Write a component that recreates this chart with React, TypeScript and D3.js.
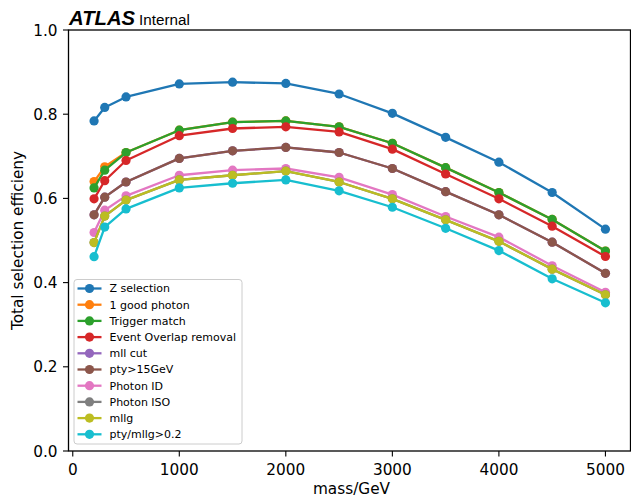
import React from 'react';
import * as d3 from 'd3';

// mass points (GeV)
const masses = [200, 300, 500, 1000, 1500, 2000, 2500, 3000, 3500, 4000, 4500, 5000];

// efficiencies per selection step
const zSelection = [0.784, 0.816, 0.841, 0.872, 0.876, 0.873, 0.848, 0.802, 0.745, 0.686, 0.614, 0.527];
const goodPhoton = [0.640, 0.675, 0.709, 0.762, 0.781, 0.784, 0.770, 0.731, 0.673, 0.614, 0.550, 0.475];
const triggerMatch = [0.625, 0.667, 0.709, 0.762, 0.781, 0.784, 0.770, 0.731, 0.673, 0.614, 0.550, 0.475];
const overlapRemoval = [0.599, 0.642, 0.690, 0.749, 0.766, 0.770, 0.758, 0.717, 0.658, 0.599, 0.534, 0.462];
const mllCut = [0.561, 0.603, 0.639, 0.695, 0.713, 0.721, 0.709, 0.671, 0.616, 0.561, 0.496, 0.422];
const ptyCut = [0.561, 0.603, 0.639, 0.695, 0.713, 0.721, 0.709, 0.671, 0.616, 0.561, 0.496, 0.422];
const photonId = [0.519, 0.572, 0.606, 0.655, 0.667, 0.671, 0.650, 0.609, 0.557, 0.508, 0.440, 0.377];
const photonIso = [0.495, 0.558, 0.596, 0.644, 0.655, 0.665, 0.639, 0.599, 0.549, 0.498, 0.432, 0.371];
const mllg = [0.495, 0.558, 0.596, 0.644, 0.655, 0.665, 0.639, 0.599, 0.549, 0.498, 0.432, 0.371];
const ptyOverMllg = [0.4615, 0.532, 0.575, 0.625, 0.636, 0.644, 0.618, 0.579, 0.529, 0.476, 0.409, 0.352];

const seriesNames = [
  'Z selection', '1 good photon', 'Trigger match', 'Event Overlap removal', 'mll cut',
  'pty>15GeV', 'Photon ID', 'Photon ISO', 'mllg', 'pty/mllg>0.2',
];
const seriesValues = [
  zSelection, goodPhoton, triggerMatch, overlapRemoval, mllCut,
  ptyCut, photonId, photonIso, mllg, ptyOverMllg,
];
const colours = d3.schemeCategory10;

const xTicks = [0, 1000, 2000, 3000, 4000, 5000];
const yTicks = [0, 0.2, 0.4, 0.6, 0.8, 1.0];

const W = 631;
const H = 498;
const FONT = '"DejaVu Sans", sans-serif';

export default function App() {
  const left = 68.5, right = 630.5, top = 30, bottom = 451;

  const x = d3.scaleLinear().domain([-40, 5240]).range([left, right + 0.5]);
  const y = d3.scaleLinear().domain([0, 1]).range([bottom, top]);

  const line = d3.line<number>()
    .x((_, i) => x(masses[i]))
    .y(d => y(d));

  const legX = 74, legY = 279.5, legW = 168, legH = 164.5;
  const rowStep = 16.2;

  return (
    <svg width={W} height={H} style={{ position: 'absolute', left: 0, top: 0, background: '#fff' }}
      fontFamily={FONT}>
      {/* series */}
      {seriesValues.map((vals, s) => (
        <g key={seriesNames[s]}>
          <path d={line(vals) ?? ''} fill="none" stroke={colours[s]} strokeWidth={2.3} strokeLinejoin="round" />
          {vals.map((v, i) => (
            <circle key={i} cx={x(masses[i])} cy={y(v)} r={4.6} fill={colours[s]} />
          ))}
        </g>
      ))}

      {/* spines */}
      <rect x={left} y={top} width={right - left} height={bottom - top} fill="none" stroke="#000" strokeWidth={1.3} />

      {/* x axis */}
      {xTicks.map(t => (
        <g key={t} transform={`translate(${x(t)},${bottom})`}>
          <line y2={5.5} stroke="#000" strokeWidth={1.1} />
          <text y={24} textAnchor="middle" fontSize={15.3} fill="#000">{t}</text>
        </g>
      ))}
      <text x={(left + right) / 2 + 2} y={494} textAnchor="middle" fontSize={15.3} fill="#000">mass/GeV</text>

      {/* y axis */}
      {yTicks.map(t => (
        <g key={t} transform={`translate(${left},${y(t)})`}>
          <line x2={-5.5} stroke="#000" strokeWidth={1.1} />
          <text x={-11} dy="0.36em" textAnchor="end" fontSize={15.3} fill="#000">{d3.format('.1f')(t)}</text>
        </g>
      ))}
      <text transform={`translate(23,${(top + bottom) / 2}) rotate(-90)`} textAnchor="middle" fontSize={15.3} fill="#000">
        Total selection efficieny
      </text>

      {/* ATLAS label */}
      <text x={69} y={25} fontFamily='"Liberation Sans", Arial, sans-serif' fill="#000">
        <tspan fontSize={20.3} fontWeight="bold" fontStyle="italic">ATLAS</tspan>
        <tspan dx={4} fontSize={15.2}>Internal</tspan>
      </text>

      {/* legend */}
      <rect x={legX} y={legY} width={legW} height={legH} rx={3} fill="#fff" fillOpacity={0.8} stroke="#ccc" strokeWidth={1} />
      {seriesNames.map((name, s) => {
        const cy = legY + 9 + s * rowStep;
        return (
          <g key={name}>
            <line x1={77.5} x2={101.5} y1={cy} y2={cy} stroke={colours[s]} strokeWidth={2.3} />
            <circle cx={89.5} cy={cy} r={4.6} fill={colours[s]} />
            <text x={109.5} y={cy} dy="0.36em" fontSize={11} fill="#000">{name}</text>
          </g>
        );
      })}
    </svg>
  );
}
